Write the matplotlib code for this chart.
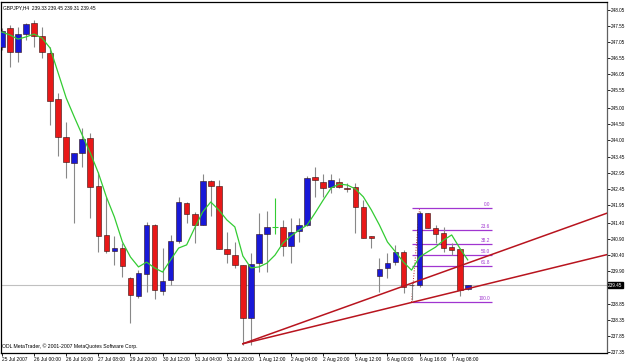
import numpy as np
import matplotlib
matplotlib.use('Agg')
import matplotlib.pyplot as plt
from matplotlib.patches import Rectangle

plt.rcParams['font.family'] = ['Liberation Sans', 'DejaVu Sans']

# GBPJPY H4 bars
opens = [246.89, 247.49, 246.74, 247.30, 247.64, 247.24, 246.71, 245.27, 244.08, 243.27,
         243.58, 244.05, 242.55, 241.02, 240.52, 240.61, 239.68, 239.11, 239.80, 241.33,
         239.27, 239.61, 240.83, 242.02, 241.67, 241.33, 242.71, 242.55, 240.58, 240.39,
         240.08, 238.42, 240.14, 241.05, 241.27, 241.27, 240.67, 241.14, 241.33, 242.83,
         242.68, 242.52, 242.68, 242.50, 242.52, 241.89, 240.99, 239.74, 239.99, 240.17,
         240.49, 239.47, 239.45, 241.71, 241.24, 241.08, 240.64, 240.58, 239.33]
highs = [247.49, 247.58, 247.52, 247.64, 247.74, 247.52, 246.89, 245.46, 244.55, 243.58,
         244.36, 244.21, 242.99, 242.21, 240.99, 240.77, 239.71, 239.92, 241.43, 241.36,
         240.61, 241.02, 242.21, 242.05, 241.74, 242.93, 242.74, 242.74, 241.11, 240.80,
         240.08, 240.46, 241.71, 241.77, 242.17, 241.49, 241.55, 241.55, 242.86, 243.14,
         242.93, 242.93, 242.80, 242.64, 242.64, 242.11, 240.99, 240.30, 240.46, 240.70,
         240.55, 239.52, 241.77, 241.71, 241.33, 241.27, 240.77, 240.58, 239.45]
lows = [246.80, 246.27, 246.43, 247.11, 246.89, 246.55, 244.46, 243.49, 242.80, 241.39,
        243.14, 241.55, 240.49, 240.46, 240.08, 239.71, 238.27, 239.05, 239.24, 239.02,
        239.14, 239.45, 240.77, 241.39, 240.77, 241.33, 241.61, 240.58, 240.14, 239.99,
        237.58, 237.58, 239.86, 239.86, 241.05, 240.36, 240.14, 240.80, 241.30, 242.21,
        242.21, 242.33, 242.49, 242.36, 241.08, 240.92, 240.61, 239.24, 239.68, 240.08,
        239.21, 238.99, 239.39, 241.24, 240.77, 240.49, 240.39, 239.11, 239.31]
closes = [247.39, 246.74, 247.30, 247.61, 247.24, 246.74, 245.21, 244.08, 243.30, 243.58,
          244.02, 242.52, 240.99, 240.52, 240.61, 240.05, 239.14, 239.83, 241.33, 239.30,
          239.58, 240.83, 242.05, 241.67, 241.33, 242.71, 242.55, 240.58, 240.43, 240.08,
          238.42, 240.11, 241.05, 241.27, 241.27, 240.67, 241.11, 241.33, 242.80, 242.74,
          242.49, 242.74, 242.52, 242.47, 241.89, 240.92, 240.92, 239.96, 240.14, 240.49,
          239.39, 239.44, 241.71, 241.24, 241.05, 240.61, 240.55, 239.30, 239.45]

# moving average (green line)
ma = [247.36, 247.27, 247.14, 247.21, 247.30, 247.17, 246.86, 246.08, 245.30, 244.71,
      244.14, 243.58, 242.96, 242.21, 241.58, 240.80, 240.33, 240.02, 240.17, 239.99,
      239.86, 240.24, 240.61, 240.71, 241.24, 241.74, 242.05, 241.80, 241.49, 241.27,
      240.36, 239.99, 240.02, 240.14, 240.39, 240.77, 240.99, 241.17, 241.33, 241.71,
      242.11, 242.49, 242.61, 242.58, 242.46, 242.21, 241.80, 241.33, 240.80, 240.49,
      240.17, 239.92, 240.33, 240.49, 240.64, 240.86, 241.02, 240.61, 240.24]

time_ticks = [0, 4, 8, 12, 16, 20, 24, 28, 32, 36, 40, 44, 48, 52, 56]
time_labels = ['25 Jul 2007', '26 Jul 00:00', '26 Jul 16:00', '27 Jul 08:00', '29 Jul 20:00',
               '30 Jul 12:00', '31 Jul 04:00', '31 Jul 20:00', '1 Aug 12:00', '2 Aug 04:00',
               '2 Aug 20:00', '3 Aug 12:00', '6 Aug 00:00', '6 Aug 16:00', '7 Aug 08:00']

price_ticks = [248.05, 247.55, 247.05, 246.55, 246.05, 245.55, 245.00, 244.50, 244.00, 243.45,
               242.95, 242.45, 241.95, 241.40, 240.90, 240.40, 239.90, 238.85, 238.35, 237.85, 237.35]
last_price = 239.45

# trend lines: (bar, price) anchors, extended to the right edge
trend1 = [(30, 237.62), (50, 239.42)]
trend2 = [(30, 237.62), (58, 239.34)]

# fibonacci retracement anchors (bar, price) and levels
fib_low = (51, 238.92)
fib_high = (52, 241.86)
fib_end = 61
fib_levels = [0.0, 23.6, 38.2, 50.0, 61.8, 100.0]

header = 'GBPJPY,H4  239.33 239.45 239.31 239.45'
footer = 'ODL MetaTrader, \u00a9 2001-2007 MetaQuotes Software Corp.'

W, H = 625, 363
fig = plt.figure(figsize=(W / 100, H / 100), dpi=100)
ax = fig.add_axes([1 / W, 10 / H, 606 / W, 351 / H])
xmin, xmax = -0.12, 75.34
ax.set_xlim(xmin, xmax)
ax.set_ylim(237.33, 248.30)

up_col = '#1818d8'
dn_col = '#e81818'
wick_col = '#888888'
doji_col = '#33cc33'

# current price line
ax.axhline(last_price, color='#c0c0c0', lw=0.8, zorder=1)

# candles
for i in range(len(opens)):
    o, h, l, c = opens[i], highs[i], lows[i], closes[i]
    if o == c:
        ax.vlines(i, l, h, color=doji_col, lw=0.8, zorder=3)
        ax.hlines(o, i - 0.35, i + 0.35, color=doji_col, lw=0.8, zorder=3)
        continue
    ax.vlines(i, l, h, color=wick_col, lw=0.8, zorder=2)
    col = up_col if c > o else dn_col
    ax.add_patch(Rectangle((i - 0.35, min(o, c)), 0.7, abs(c - o),
                           facecolor=col, edgecolor='#301010', lw=0.4, zorder=3))

# moving average
ax.plot(range(len(ma)), ma, color=doji_col, lw=0.9, zorder=4)

# trend rays
for (x0, y0), (x1, y1) in (trend1, trend2):
    slope = (y1 - y0) / (x1 - x0)
    ax.plot([x0, xmax], [y0, y0 + slope * (xmax - x0)], color='#b8141e', lw=1.1, zorder=5)

# fibonacci retracement
fib_col = '#a035d0'
ax.plot([fib_low[0], fib_high[0]], [fib_low[1], fib_high[1]], color='#c02020',
        lw=0.7, ls=':', zorder=1.5)
for lev in fib_levels:
    p = fib_high[1] + (fib_low[1] - fib_high[1]) * lev / 100
    ax.hlines(p, fib_low[0], fib_end, color=fib_col, lw=0.9, zorder=1.8)
    ax.text(fib_end - 0.2, p + 0.04, '%.1f' % lev, color=fib_col, fontsize=3.4,
            ha='right', va='bottom', zorder=6)

# axes styling
ax.yaxis.tick_right()
ax.set_yticks(price_ticks)
ax.set_yticklabels(['%.2f' % v for v in price_ticks])
ax.set_xticks(time_ticks)
ax.set_xticklabels(time_labels)
plt.setp(ax.get_xticklabels(), ha='left')
ax.tick_params(axis='y', direction='out', length=1.8, width=0.6, pad=0.6, labelsize=3.3)
ax.tick_params(axis='x', direction='out', length=2, width=0.6, pad=1.0, labelsize=3.5)
for s in ax.spines.values():
    s.set_linewidth(0.9)
    s.set_color('black')
ax.spines['right'].set_color('#606060')

ax.text(1.002, last_price, '%.2f' % last_price, transform=ax.get_yaxis_transform(),
        fontsize=3.3, color='white', ha='left', va='center',
        bbox=dict(facecolor='black', edgecolor='black', pad=0.4), zorder=7, clip_on=False)

ax.text(0.003, 0.99, header, transform=ax.transAxes, fontsize=3.5, ha='left', va='top')
ax.text(0.002, 0.012, footer, transform=ax.transAxes, fontsize=3.7, ha='left', va='bottom')

fig.savefig('out.png', dpi=100, facecolor='white')
